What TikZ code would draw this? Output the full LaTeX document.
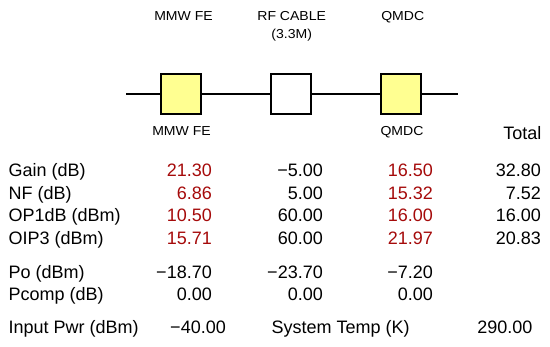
\documentclass[tikz,border=0pt]{standalone}
\usepackage{fontspec}
\setmainfont{Liberation Sans}
\usepackage{graphicx}
\definecolor{boxyellow}{RGB}{255,255,145}
\definecolor{valred}{RGB}{165,10,10}
\newcommand\widetxt[1]{\scalebox{1.08}[1]{#1}}
\begin{document}
\begin{tikzpicture}[x=1pt,y=-1pt,
  blk/.style={draw=black, line width=1.6pt, minimum width=40.2pt, minimum height=40.2pt, inner sep=0pt},
  ylw/.style={blk, fill=boxyellow},
  wht/.style={blk, fill=white},
  wire/.style={line width=1.6pt},
  lab/.style={font=\fontsize{13}{15}\selectfont, inner sep=0pt, anchor=base},
  tab/.style={font=\fontsize{18}{21}\selectfont, inner sep=0pt},
  lft/.style={tab, anchor=base west},
  num/.style={tab, anchor=base east},
  rnum/.style={num, text=valred}]
\useasboundingbox (0,0) rectangle (550,347);
% chain
\coordinate (cin) at (126,94);
\coordinate (cout) at (457.7,94);
\node[ylw] (b1) at (181,94) {};
\node[wht] (b2) at (291,94) {};
\node[ylw] (b3) at (401,94) {};
\draw[wire] (cin) -- (b1.west);
\draw[wire] (b1.east) -- (b2.west);
\draw[wire] (b2.east) -- (b3.west);
\draw[wire] (b3.east) -- (cout);
% labels
\node[lab] (t1) at (183.5,20.8) {\widetxt{MMW FE}};
\node[lab] (t2) at (291.7,20.8) {\widetxt{RF CABLE}};
\node[lab] (t2b) at (291.7,38.5) {\widetxt{(3.3M)}};
\node[lab] (t3) at (402.7,20.8) {\widetxt{QMDC}};
\node[lab] (u1) at (181.5,136) {\widetxt{MMW FE}};
\node[lab] (u3) at (402,136) {\widetxt{QMDC}};
\node[num] (tot) at (541.5,139.5) {Total};
% table
\node[lft] (lg) at (8.5,177) {Gain (dB)};
\node[rnum] (g1) at (212,177) {21.30};
\node[num] (g2) at (323,177) {−5.00};
\node[rnum] (g3) at (433,177) {16.50};
\node[num] (g4) at (541,177) {32.80};
\node[lft] (ln) at (8.5,199.5) {NF (dB)};
\node[rnum] (n1) at (212,199.5) {6.86};
\node[num] (n2) at (323,199.5) {5.00};
\node[rnum] (n3) at (433,199.5) {15.32};
\node[num] (n4) at (541,199.5) {7.52};
\node[lft] (lp) at (8.5,222) {OP1dB (dBm)};
\node[rnum] (p1) at (212,222) {10.50};
\node[num] (p2) at (323,222) {60.00};
\node[rnum] (p3) at (433,222) {16.00};
\node[num] (p4) at (541,222) {16.00};
\node[lft] (lo) at (8.5,244.5) {OIP3 (dBm)};
\node[rnum] (o1) at (212,244.5) {15.71};
\node[num] (o2) at (323,244.5) {60.00};
\node[rnum] (o3) at (433,244.5) {21.97};
\node[num] (o4) at (541,244.5) {20.83};
\node[lft] (lpo) at (8.5,279) {Po (dBm)};
\node[num] (po1) at (212,279) {−18.70};
\node[num] (po2) at (323,279) {−23.70};
\node[num] (po3) at (433,279) {−7.20};
\node[lft] (lpc) at (8.5,301) {Pcomp (dB)};
\node[num] (pc1) at (212,301) {0.00};
\node[num] (pc2) at (323,301) {0.00};
\node[num] (pc3) at (433,301) {0.00};
\node[lft] (lin) at (8.5,334) {Input Pwr (dBm)};
\node[num] (inv) at (226,334) {−40.00};
\node[lft] (lst) at (271.5,334) {System Temp (K)};
\node[num] (stv) at (532.7,334) {290.00};
\end{tikzpicture}
\end{document}
